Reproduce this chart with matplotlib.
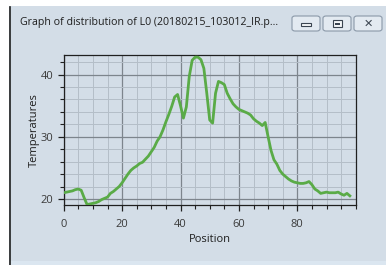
import matplotlib
matplotlib.use("Agg")
import matplotlib.pyplot as plt
from matplotlib.patches import Rectangle, FancyBboxPatch
from matplotlib.lines import Line2D
import numpy as np

# ---- data ----
positions = list(range(0, 99))
temperatures = [
    21.0, 21.1, 21.2, 21.3, 21.5, 21.6, 21.4, 20.2, 19.1, 19.2,
    19.3, 19.4, 19.6, 19.9, 20.1, 20.3, 20.9, 21.2, 21.6, 22.0,
    22.6, 23.3, 24.0, 24.6, 25.0, 25.3, 25.7, 25.9, 26.4, 26.9,
    27.6, 28.3, 29.3, 30.0, 31.1, 32.4, 33.6, 34.9, 36.4, 36.8,
    35.0, 33.0, 34.8, 39.7, 42.3, 42.8, 42.8, 42.4, 41.0, 37.0,
    32.7, 32.2, 37.0, 38.9, 38.7, 38.4, 37.0, 36.1, 35.3, 34.8,
    34.4, 34.2, 34.0, 33.8, 33.5, 32.9, 32.5, 32.2, 31.8, 32.3,
    30.0, 27.8, 26.3, 25.6, 24.6, 24.0, 23.6, 23.2, 22.9, 22.7,
    22.6, 22.5, 22.5, 22.6, 22.8, 22.3, 21.6, 21.3, 20.9, 21.0,
    21.1, 21.0, 21.0, 21.0, 21.1, 20.8, 20.6, 20.9, 20.5,
]
x_ticks = [0, 20, 40, 60, 80]
y_ticks = [20, 30, 40]
window_title = "Graph of distribution of L0 (20180215_103012_IR.p..."
x_label = "Position"
y_label = "Temperatures"

W, H = 386, 265
BG = "#d3dde7"
plt.rcParams['font.family'] = ['Open Sans', 'DejaVu Sans']

fig = plt.figure(figsize=(W / 100, H / 100), dpi=100, facecolor=BG)

# window frame decorations
fig.patches.append(Rectangle((0, 0), 9 / W, 1, transform=fig.transFigure,
                             facecolor="white", edgecolor="none", zorder=0))
fig.patches.append(Rectangle((0, 1 - 6 / H), 1, 6 / H, transform=fig.transFigure,
                             facecolor="white", edgecolor="none", zorder=0))
fig.add_artist(Line2D([9.5 / W, 9.5 / W], [0, 1 - 7 / H], transform=fig.transFigure,
                      color="#202020", lw=1.2))
fig.patches.append(Rectangle((10 / W, 0), 1, 4 / H, transform=fig.transFigure,
                             facecolor="#dbe6f0", edgecolor="none", zorder=0))

fig.text(20 / W, 1 - 23 / H, window_title, fontsize=7.7, color="#1e1e1e",
         va="center", ha="left")

# buttons
for bx0, bx1 in [(292, 320), (323, 351), (354, 382)]:
    b = FancyBboxPatch((bx0 / W, 1 - 31 / H), (bx1 - bx0) / W, 15 / H,
                       boxstyle="round,pad=0,rounding_size=0.008",
                       transform=fig.transFigure, facecolor="#e3eaf1",
                       edgecolor="#8a98a8", lw=0.8)
    fig.patches.append(b)
# minimize glyph
fig.patches.append(Rectangle(((306 - 5) / W, 1 - 25.5 / H), 10 / W, 2.5 / H,
                             transform=fig.transFigure, facecolor="#f4f6f8",
                             edgecolor="#3a4450", lw=0.8))
# maximize glyph
fig.patches.append(Rectangle(((337 - 4.5) / W, 1 - 27 / H), 9 / W, 7 / H,
                             transform=fig.transFigure, facecolor="#f4f6f8",
                             edgecolor="#3a4450", lw=0.8))
fig.patches.append(Rectangle(((337 - 2.5) / W, 1 - 25 / H), 5 / W, 2 / H,
                             transform=fig.transFigure, facecolor="#3a4450",
                             edgecolor="none"))
fig.text(368 / W, 1 - 23.5 / H, "\u2715", fontsize=8, color="#3a4450",
         ha="center", va="center", family=['DejaVu Sans'], fontweight="bold")

# ---- axes ----
ax = fig.add_axes([63.7 / W, (H - 205) / H, (355.7 - 63.7) / W, (205 - 55.3) / H])
ax.set_facecolor(BG)
ax.plot(positions, temperatures, color="#5aab47", lw=2.0, solid_joinstyle="round",
        zorder=3)
ax.set_xlim(0, 100)
ax.set_ylim(19.03, 43.1)
ax.set_xticks(x_ticks)
ax.set_yticks(y_ticks)
ax.set_xticks(np.arange(0, 101, 5), minor=True)
ax.set_yticks(np.arange(20, 44, 2), minor=True)
ax.grid(which="major", color="#7d858d", lw=0.9, zorder=1)
ax.grid(which="minor", color="#b4bec8", lw=0.7, zorder=1)
ax.set_axisbelow(True)
for s in ax.spines.values():
    s.set_color("#202020")
    s.set_linewidth(0.9)
ax.tick_params(which="major", length=4.5, width=0.9, color="#202020",
               labelsize=8, labelcolor="#3a3a3a")
ax.tick_params(which="minor", length=3, width=0.8, color="#202020")
ax.tick_params(axis="x", pad=5.5)
ax.tick_params(axis="y", pad=3)
ax.set_xlabel(x_label, fontsize=8, color="#1e1e1e", labelpad=3)
ax.set_ylabel(y_label, fontsize=8, color="#1e1e1e", labelpad=0.5)

fig.savefig("out.png", dpi=100, facecolor=BG)
